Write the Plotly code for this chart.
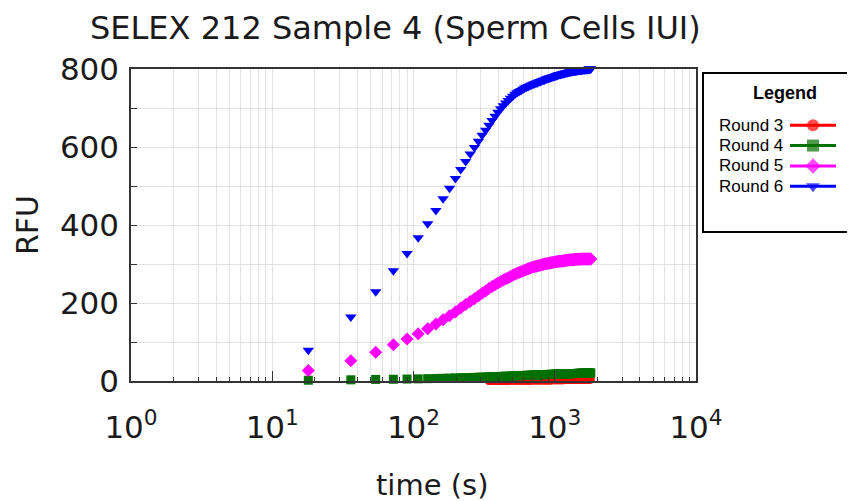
import plotly.graph_objects as go

# ---------------- data ----------------
time_s = [18, 36, 54, 72, 90, 108, 126, 144, 162, 180,
          198, 216, 234, 252, 270, 288, 306, 324, 342, 360,
          378, 396, 414, 432, 450, 468, 486, 504, 522, 540,
          558, 576, 594, 612, 630, 648, 666, 684, 702, 720,
          738, 756, 774, 792, 810, 828, 846, 864, 882, 900,
          918, 936, 954, 972, 990, 1008, 1026, 1044, 1062, 1080,
          1098, 1116, 1134, 1152, 1170, 1188, 1206, 1224, 1242, 1260,
          1278, 1296, 1314, 1332, 1350, 1368, 1386, 1404, 1422, 1440,
          1458, 1476, 1494, 1512, 1530, 1548, 1566, 1584, 1602, 1620,
          1638, 1656, 1674, 1692, 1710, 1728, 1746, 1764, 1782, 1800]

round3 = [-1.0, -1.0, -0.9, -0.8, -0.8, -0.7, -0.6, -0.6, -0.5, -0.5,
          -0.4, -0.4, -0.3, -0.3, -0.2, -0.2, -0.1, -0.1, 0.0, 0.0,
          0.1, 0.1, 0.2, 0.2, 0.3, 0.3, 0.4, 0.4, 0.5, 0.5,
          0.6, 0.6, 0.7, 0.7, 0.8, 0.8, 0.9, 0.9, 1.0, 1.0,
          1.1, 1.1, 1.2, 1.2, 1.3, 1.3, 1.4, 1.4, 1.5, 1.5,
          1.6, 1.6, 1.7, 1.7, 1.8, 1.8, 1.9, 1.9, 2.0, 2.0,
          2.1, 2.1, 2.2, 2.2, 2.3, 2.3, 2.4, 2.4, 2.5, 2.5,
          2.6, 2.6, 2.7, 2.7, 2.8, 2.8, 2.9, 2.9, 3.0, 3.0,
          3.1, 3.1, 3.2, 3.2, 3.3, 3.3, 3.4, 3.4, 3.5, 3.5,
          3.5, 3.6, 3.6, 3.6, 3.7, 3.7, 3.7, 3.8, 3.8, 3.8]

round4 = [2, 3, 4, 4.5, 5, 5.5, 6, 6.5, 7, 7.5,
          8, 8.3, 8.6, 9, 9.3, 9.6, 10, 10.3, 10.6, 11,
          11.2, 11.5, 11.8, 12, 12.3, 12.5, 12.8, 13, 13.2, 13.5,
          13.7, 13.9, 14.1, 14.3, 14.5, 14.7, 14.9, 15, 15.2, 15.4,
          15.5, 15.7, 15.8, 16, 16.1, 16.2, 16.4, 16.5, 16.6, 16.8,
          16.9, 17, 17.1, 17.2, 17.3, 17.4, 17.5, 17.6, 17.7, 17.8,
          17.9, 18, 18.1, 18.2, 18.3, 18.4, 18.5, 18.5, 18.6, 18.7,
          18.8, 18.9, 18.9, 19, 19.1, 19.2, 19.2, 19.3, 19.4, 19.4,
          19.5, 19.6, 19.6, 19.7, 19.8, 19.8, 19.9, 19.9, 20, 20.1,
          20.1, 20.2, 20.2, 20.3, 20.3, 20.4, 20.4, 20.5, 20.5, 20.6]

round5 = [27, 52, 74, 93, 108, 121, 134, 146, 157, 167,
          177, 187, 196, 204, 211, 218, 225, 231, 237, 242,
          247, 251, 255, 259, 262, 265, 268, 271, 274, 276,
          278, 280, 282, 284, 286, 288, 289, 291, 292, 293,
          294, 295, 296, 297, 298, 299, 300, 300, 301, 302,
          302, 303, 304, 304, 305, 305, 306, 306, 307, 307,
          307, 308, 308, 308, 309, 309, 309, 310, 310, 310,
          310, 311, 311, 311, 311, 311, 312, 312, 312, 312,
          312, 312, 312, 312, 313, 313, 313, 313, 313, 313,
          313, 313, 313, 313, 313, 313, 313, 313, 313, 313]

round6 = [79, 164, 229, 283, 327, 367, 403, 437, 467, 494,
          519, 542, 563, 582, 599, 615, 630, 643, 656, 668,
          679, 689, 698, 706, 713, 719, 725, 730, 735, 739,
          742, 745, 748, 751, 753, 755, 757, 759, 761, 762,
          764, 765, 767, 768, 770, 771, 772, 774, 775, 776,
          777, 778, 779, 780, 781, 782, 783, 784, 785, 786,
          786, 787, 788, 788, 789, 790, 790, 791, 791, 792,
          792, 793, 793, 794, 794, 794, 795, 795, 795, 796,
          796, 796, 797, 797, 797, 797, 798, 798, 798, 798,
          798, 799, 799, 799, 799, 799, 800, 800, 800, 800]

series_names = ["Round 3", "Round 4", "Round 5", "Round 6"]
series_values = [round3, round4, round5, round6]
series_colors = ["#ff0000", "#007000", "#ff00ff", "#0000ff"]
series_symbols = ["circle", "square", "diamond", "triangle-down"]
series_sizes = [8, 9, 10, 10]

x_major = [1, 10, 100, 1000, 10000]
x_major_text = ["10<sup>0</sup>", "10<sup>1</sup>", "10<sup>2</sup>",
                "10<sup>3</sup>", "10<sup>4</sup>"]
x_minor = [m * d for d in (1, 10, 100, 1000) for m in range(2, 10)]

title_text = "SELEX 212 Sample 4 (Sperm Cells IUI)"
x_title = "time (s)"
y_title = "RFU"
legend_title = "Legend"

# ---------------- geometry (screen px -> paper) ----------------
OFF = 8                      # default page body margin
W, H = 855 - OFF, 501 - OFF  # figure size so it fits the window
PLOT_L, PLOT_R, PLOT_T, PLOT_B = 131, 696, 69, 381   # target screen px
L = PLOT_L - OFF
T = PLOT_T - OFF
B = H - (PLOT_B - OFF)
R = 1
PW, PH = W - L - R, H - T - B


def px(x):
    return (x - OFF - L) / PW


def py(y):
    return (H - B - (y - OFF)) / PH


FONT = "DejaVu Sans"
TXT = "#1a1a1a"
GRID = "#e3e3e3"
AXC = "#333333"

fig = go.Figure()

for name, vals, col, sym, sz in zip(series_names, series_values, series_colors,
                                    series_symbols, series_sizes):
    fig.add_trace(go.Scatter(
        x=time_s, y=vals, mode="markers", name=name,
        marker=dict(color=col, symbol=sym, size=sz, line=dict(width=0)),
        cliponaxis=False, showlegend=False, xaxis="x", yaxis="y"))

# custom legend glyphs (line with marker in the middle)
for i, (col, sym) in enumerate(zip(series_colors, series_symbols)):
    fig.add_trace(go.Scatter(
        x=[0, 1, 2], y=[i, i, i], mode="lines+markers",
        line=dict(color=col, width=3),
        marker=dict(color=col, symbol=sym, size=[0, 12, 0], line=dict(width=0)),
        showlegend=False, hoverinfo="skip", xaxis="x2", yaxis="y2",
        cliponaxis=False))

fig.update_layout(
    template="none",
    width=W, height=H, autosize=False,
    margin=dict(l=L, r=R, t=T, b=B, pad=0, autoexpand=False),
    paper_bgcolor="white", plot_bgcolor="white",
    font=dict(family=FONT, color=TXT),
    showlegend=False,
    xaxis=dict(
        type="log", range=[0, 4], domain=[0, px(PLOT_R)], automargin=False,
        tickmode="array", tickvals=x_major, ticktext=x_major_text,
        ticks="inside", ticklen=10, tickwidth=1, tickcolor=AXC,
        showgrid=True, gridcolor=GRID, gridwidth=1,
        showline=True, linecolor=AXC, linewidth=1.5, mirror=True,
        zeroline=False,
        tickfont=dict(family=FONT, size=31, color=TXT),
        ticklabelstandoff=18,
        minor=dict(tickmode="array", tickvals=x_minor, ticks="inside",
                   ticklen=4, tickcolor=AXC, showgrid=True,
                   gridcolor=GRID, gridwidth=1),
    ),
    yaxis=dict(
        range=[0, 800], domain=[0, 1], automargin=False,
        tickmode="linear", tick0=0, dtick=200,
        ticks="inside", ticklen=6, tickwidth=1, tickcolor=AXC,
        showgrid=True, gridcolor=GRID, gridwidth=1,
        showline=True, linecolor=AXC, linewidth=1.5, mirror=True,
        zeroline=False,
        tickfont=dict(family=FONT, size=31, color=TXT),
        ticklabelstandoff=4,
        minor=dict(dtick=100, ticks="inside", ticklen=6, tickcolor=AXC,
                   showgrid=True, gridcolor=GRID, gridwidth=1),
    ),
    xaxis2=dict(domain=[px(790), px(836)], range=[0, 2], visible=False,
                anchor="y2", fixedrange=True, automargin=False),
    yaxis2=dict(domain=[py(196.5), py(115)], range=[3.5, -0.5], visible=False,
                anchor="x2", fixedrange=True, automargin=False),
)

annotations = [
    dict(text=title_text, x=px(395), y=py(28), xref="paper", yref="paper",
         showarrow=False, xanchor="center", yanchor="middle",
         font=dict(family=FONT, size=32, color=TXT)),
    dict(text=x_title, x=px(432), y=py(485), xref="paper", yref="paper",
         showarrow=False, xanchor="center", yanchor="middle",
         font=dict(family=FONT, size=29, color=TXT)),
    dict(text=y_title, x=px(27), y=py(225), xref="paper", yref="paper",
         showarrow=False, xanchor="center", yanchor="middle", textangle=-90,
         font=dict(family=FONT, size=30, color=TXT)),
    dict(text="<b>" + legend_title + "</b>", x=px(785), y=py(93),
         xref="paper", yref="paper", showarrow=False,
         xanchor="center", yanchor="middle",
         font=dict(family="Liberation Sans", size=18, color="black")),
]
for i, name in enumerate(series_names):
    annotations.append(dict(
        text=name, x=px(717), y=i, xref="paper", yref="y2",
        showarrow=False, xanchor="left", yanchor="middle",
        font=dict(family="Liberation Sans", size=17, color="black")))
fig.update_layout(annotations=annotations)

fig.add_shape(type="rect", xref="paper", yref="paper",
              x0=px(703), x1=px(853.5), y0=py(232), y1=py(73),
              line=dict(color="black", width=2), fillcolor="rgba(0,0,0,0)",
              layer="above")

fig.write_html("out.html")
